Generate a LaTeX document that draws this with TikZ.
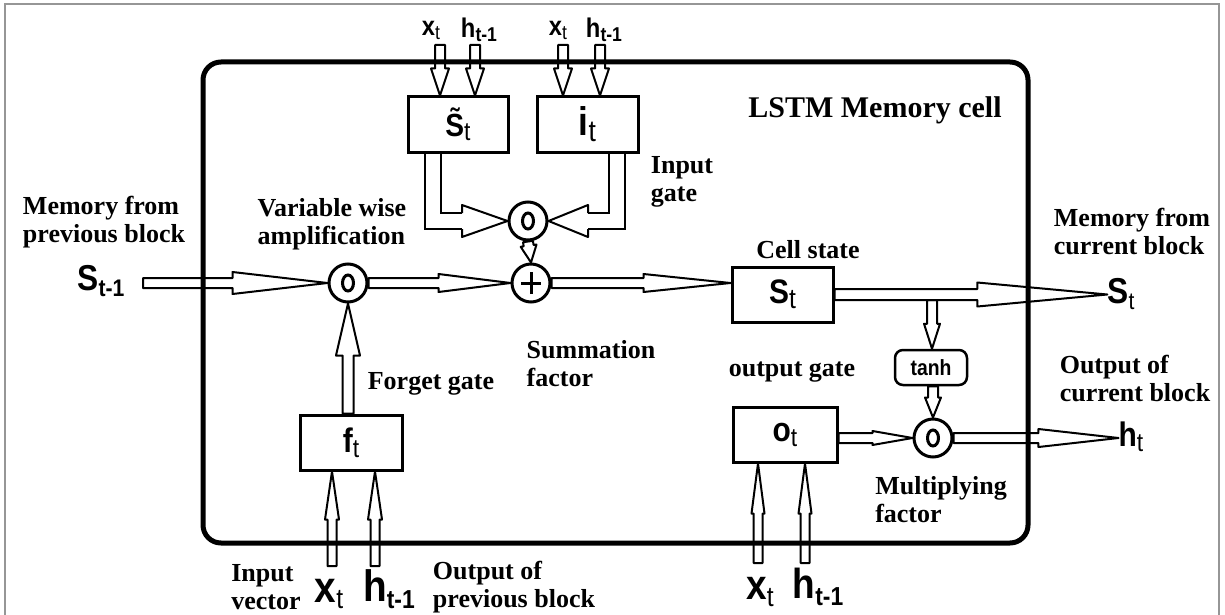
\documentclass[tikz,border=0pt]{standalone}
\usepackage{fontspec}
\setmainfont{Liberation Serif}
\setsansfont{Liberation Sans}
\newfontfamily\narrowbf[FakeStretch=0.88]{Liberation Sans Bold}
\newfontfamily\narrowrg[FakeStretch=0.88]{Liberation Sans}
\usepackage{tikz}
\usetikzlibrary{calc, positioning}
\definecolor{framegray}{RGB}{150,150,150}
% main letter in bold, index in its own family
\newcommand{\lvar}[4]{{\narrowbf\fontsize{#1}{#1}\selectfont #3\raisebox{-0.15em}{\fontsize{#2}{#2}\selectfont #4}}}
\newcommand{\tsub}{{\narrowrg t}}

\begin{document}
\begin{tikzpicture}[x=1pt, y=-1pt,
    gatebox/.style={draw, line width=3pt, minimum width=100pt, minimum height=55pt, inner sep=0pt},
    opcirc/.style={circle, draw, line width=3pt, minimum size=38pt, inner sep=0pt},
    dotop/.style={opcirc, path picture={\draw[line width=3pt] (path picture bounding box.center) ellipse [x radius=5.5pt, y radius=8pt];}},
    sumop/.style={opcirc, path picture={\draw[line width=3pt] ([xshift=-10pt]path picture bounding box.center) -- ([xshift=10pt]path picture bounding box.center) ([yshift=-11pt]path picture bounding box.center) -- ([yshift=11pt]path picture bounding box.center);}},
    lbl/.style={font=\bfseries\fontsize{26}{28}\selectfont, align=left, inner sep=0pt},
    vlbl/.style={inner sep=0pt},
    hollow/.style n args={3}{line width=2pt, line join=round, to path={
      let \p1=(\tikztostart), \p2=(\tikztotarget), \p3=($(\p2)!#3!(\p1)$) in
      ($(\p1)!#1!90:(\p2)$) -- ($(\p3)!#1!90:(\p2)$) -- ($(\p3)!#2!90:(\p2)$) -- (\p2)
      -- ($(\p3)!#2!-90:(\p2)$) -- ($(\p3)!#1!-90:(\p2)$) -- ($(\p1)!#1!-90:(\p2)$) -- cycle}},
    hhead/.style 2 args={line width=2pt, line join=round, to path={
      let \p1=(\tikztostart), \p2=(\tikztotarget) in
      ($(\p1)!#1!90:(\p2)$) -- ($(\p1)!#2!90:(\p2)$) -- (\p2)
      -- ($(\p1)!#2!-90:(\p2)$) -- ($(\p1)!#1!-90:(\p2)$)}},
    hshaft/.style={line width=2pt, line join=miter, double=white, double distance=14pt}
  ]
    \useasboundingbox (0,0) rectangle (1225,615);
    % outer frame and cell outline
    \draw[framegray, line width=2.5pt] (5,625) -- (5,4) -- (1219,4) -- (1219,625);
    \draw[line width=5pt, rounded corners=18pt] (203,62) rectangle (1028,543);

    % gates and operators
    \node[gatebox] (stil) at (458,124.5) {\lvar{32}{26}{\~{S}}{\tsub}};
    \node[gatebox, minimum width=101pt] (it) at (587.5,124.5) {\lvar{40}{30}{i}{\tsub}};
    \node[gatebox, minimum width=101pt] (cell) at (782.5,294.5) {\lvar{34}{28}{S}{\tsub}};
    \node[gatebox, minimum width=104pt] (ot) at (785,434.5) {\lvar{34}{26}{o}{\tsub}};
    \node[gatebox, minimum width=102pt] (ft) at (351,442.5) {\lvar{34}{26}{f}{\tsub}};
    \node[draw, line width=2.5pt, rounded corners=8pt, minimum width=72pt, minimum height=35pt, inner sep=0pt] (tanh) at (931,367.5) {{\narrowbf\fontsize{22}{22}\selectfont tanh}};
    \node[dotop] (lo) at (348,283) {};
    \node[sumop] (plus) at (531,283) {};
    \node[dotop] (top) at (528,221) {};
    \node[dotop] (ro) at (933,438) {};

    % variables
    \node[vlbl] (sprev) at (101,281) {\lvar{36}{24}{S}{t-1}};
    \node[vlbl] (xa) at (431,30) {\lvar{27}{20}{x}{\tsub}};
    \node[vlbl] (ha) at (479,30) {\lvar{27}{20}{h}{t-1}};
    \node[vlbl] (xb) at (558,30) {\lvar{27}{20}{x}{\tsub}};
    \node[vlbl] (hb) at (604,30) {\lvar{27}{20}{h}{t-1}};
    \node[vlbl] (sout) at (1121,294) {\lvar{36}{24}{S}{\tsub}};
    \node[vlbl] (hout) at (1131,437) {\lvar{34}{26}{h}{\tsub}};
    \node[vlbl] (xc) at (329,594) {\lvar{44}{28}{x}{\tsub}};
    \node[vlbl] (hc) at (389,589) {\lvar{44}{26}{h}{t-1}};
    \node[vlbl] (xd) at (760,592) {\lvar{42}{28}{x}{\tsub}};
    \node[vlbl] (hd) at (818,587) {\lvar{42}{26}{h}{t-1}};

    % labels
    \node[lbl] (memprev) at (104,222) {Memory from\\previous block};
    \node[lbl] (varamp) at (332,224) {Variable wise\\amplification};
    \node[lbl] (ingate) at (682,182) {Input\\gate};
    \node[lbl, font=\bfseries\fontsize{30}{32}\selectfont] (title) at (875,110) {LSTM Memory cell};
    \node[lbl] (cellst) at (808,250) {Cell state};
    \node[lbl] (memcur) at (1132,232) {Memory from\\current block};
    \node[lbl] (sumf) at (591,364) {Summation\\factor};
    \node[lbl] (forget) at (431,384) {Forget gate};
    \node[lbl] (outg) at (792,372) {output gate};
    \node[lbl] (outcur) at (1135,379) {Output of\\current block};
    \node[lbl] (mulf) at (941,500) {Multiplying\\factor};
    \node[lbl] (invec) at (266,587) {Input\\vector};
    \node[lbl] (outprev) at (514,587) {Output of\\previous block};

    % free ends of the inputs
    \coordinate (sin) at (143,283);
    \coordinate (ta1) at (440,45);
    \coordinate (ta2) at (475,45);
    \coordinate (ta3) at (563,45);
    \coordinate (ta4) at (600,45);
    \coordinate (in1) at (332,566);
    \coordinate (in2) at (375,566);
    \coordinate (in3) at (758,563);
    \coordinate (in4) at (805,563);
    \coordinate (br) at (932,300);
    \coordinate (e1) at (462,221);
    \coordinate (e2) at (588,221);

    % connectors
    \draw[hollow={5pt}{11pt}{95pt}] (sin) to (lo.west);
    \draw[hollow={5pt}{9pt}{72pt}] (lo.east) to (plus.west);
    \draw[hollow={5pt}{9pt}{87pt}] (plus.east) to (plus.east -| cell.west);
    \draw[hollow={5.5pt}{12pt}{130pt}] (cell.east) to (cell.east -| sout.west);
    \draw[hollow={5pt}{8pt}{25pt}] (br) to (br |- tanh.north);
    \draw[hollow={5pt}{8pt}{20pt}] (ro.north |- tanh.south) to (ro.north);
    \draw[hollow={5pt}{7pt}{40pt}] (ro.west -| ot.east) to (ro.west);
    \draw[hollow={5pt}{9pt}{80pt}] (ro.east) to (ro.east -| hout.west);
    \draw[hollow={5.5pt}{12pt}{52pt}] (lo.south |- ft.north) to (lo.south);
    \draw[hollow={4.5pt}{7pt}{48pt}] (in1) to (in1 |- ft.south);
    \draw[hollow={4.5pt}{7pt}{48pt}] (in2) to (in2 |- ft.south);
    \draw[hollow={4.5pt}{6.5pt}{50pt}] (in3) to (in3 |- ot.south);
    \draw[hollow={4.5pt}{6.5pt}{50pt}] (in4) to (in4 |- ot.south);
    \foreach \t in {ta1,ta2} \draw[hollow={5pt}{9pt}{27pt}] (\t) to (\t |- stil.north);
    \foreach \t in {ta3,ta4} \draw[hollow={5pt}{9pt}{27pt}] (\t) to (\t |- it.north);
    \draw[hshaft] ([xshift=-25pt]stil.south) |- (e1);
    \draw[hhead={8pt}{16pt}] (e1) to (top.west);
    \draw[hshaft] ([xshift=29.5pt]it.south) |- (e2);
    \draw[hhead={8pt}{16pt}] (e2) to (top.east);
    \draw[hollow={5pt}{8pt}{17pt}] (top.south) to (plus.north);
\end{tikzpicture}
\end{document}
